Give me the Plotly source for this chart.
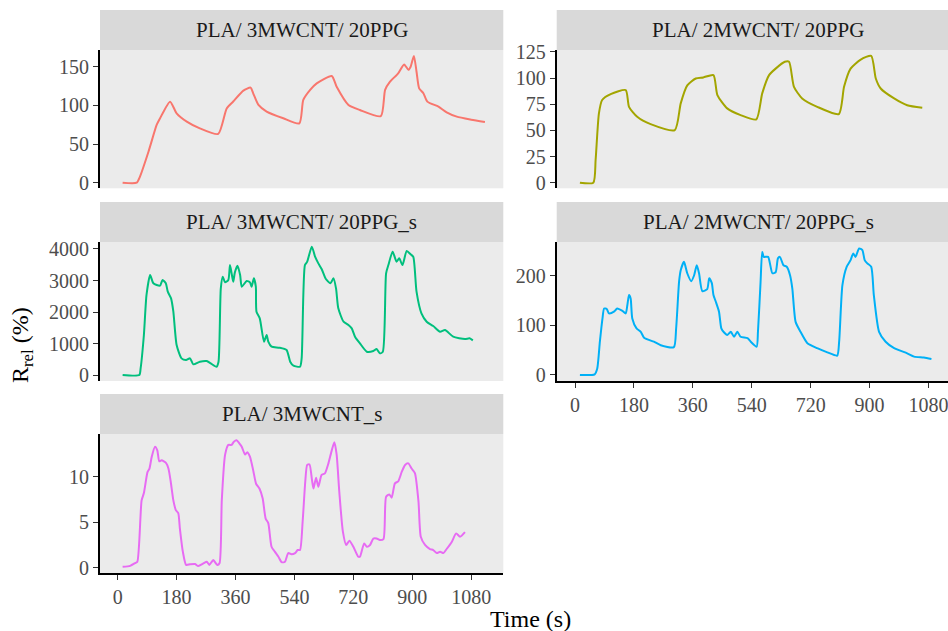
import plotly.graph_objects as go

# ---------------- data ----------------
titles = ["PLA/ 3MWCNT/ 20PPG", "PLA/ 2MWCNT/ 20PPG", "PLA/ 3MWCNT/ 20PPG_s",
          "PLA/ 2MWCNT/ 20PPG_s", "PLA/ 3MWCNT_s"]
colors = ["#F8766D", "#A3A500", "#00BF7D", "#00B0F6", "#E76BF3"]

t1 = [15, 58, 68, 94, 119, 129, 160, 180, 211, 251, 307, 333, 353, 384, 406, 414, 430, 455, 506,
      555, 567, 588, 608, 654, 669, 705, 740, 804, 817, 832, 857, 875, 888, 895, 905, 913, 921,
      934, 946, 980, 1005, 1036, 1080, 1122]
r1 = [0, 0, 7.8, 40, 74.6, 83, 104.8, 89.7, 79, 70.3, 63, 96, 105, 119, 123, 115.6, 100.5, 92, 83.3,
      76.8, 107, 120, 128.5, 138, 124, 100.5, 94, 86, 120, 130.6, 141.5, 153, 146, 150, 164, 143.5,
      122, 115.6, 104.8, 98.3, 91, 85.4, 81.5, 78.5]

t2 = [15, 56, 63, 73, 83, 109, 155, 165, 190, 231, 305, 323, 343, 369, 392, 423, 435, 465, 506,
      554, 572, 593, 613, 641, 654, 669, 694, 740, 806, 822, 842, 873, 905, 919, 934, 975, 1015, 1061]
r2 = [0, 0, 21.7, 66, 79, 84.6, 88.5, 72.5, 63, 56, 50.3, 75.8, 93, 99.6, 100.6, 102.8, 83.7, 71, 64.6,
      60.5, 85.3, 102.8, 109, 115.5, 115.5, 91.6, 80.5, 72.5, 65.6, 91.6, 109, 117.7, 121.2, 99.6, 90,
      80.5, 74, 71.6]

t3 = [15, 66, 70, 80, 88, 99, 109, 129, 137, 147, 153, 163, 170, 180, 195, 209, 221, 231, 251, 272,
      284, 302, 308, 315, 321, 328, 338, 343, 348, 353, 358, 366, 374, 379, 394, 404, 409, 416, 422,
      424, 434, 447, 455, 460, 470, 494, 516, 527, 537, 557, 562, 572, 579, 593, 603, 613, 623, 636,
      650, 659, 667, 674, 690, 705, 715, 725, 740, 761, 781, 791, 801, 810, 820, 827, 840, 852, 860,
      870, 883, 895, 903, 913, 928, 944, 964, 985, 1000, 1025, 1061, 1075, 1085]
r3 = [0, 0, 212, 1270, 2540, 3174, 2910, 2835, 3016, 2910, 2645, 2433, 2010, 952, 529, 476, 529, 339,
      423, 444, 370, 264, 423, 2750, 3121, 2941, 3016, 3490, 3227, 2962, 3258, 3470, 3174, 2804, 2983,
      2941, 2804, 3068, 2804, 2010, 1799, 1058, 1270, 1058, 899, 868, 794, 423, 296, 264, 529, 3490,
      3597, 4074, 3756, 3544, 3364, 3047, 2910, 3068, 2750, 2116, 1693, 1587, 1481, 1217, 1005, 740,
      762, 825, 688, 740, 3227, 3490, 3915, 3597, 3703, 3490, 3936, 3830, 3756, 2645, 1957, 1693, 1555,
      1375, 1428, 1217, 1143, 1164, 1100]

t4 = [15, 60, 68, 76, 84, 89, 97, 104, 119, 129, 145, 155, 160, 165, 170, 175, 188, 201, 211, 241,
      262, 302, 309, 318, 323, 333, 343, 355, 364, 372, 379, 389, 404, 410, 418, 423, 430, 440, 447,
      455, 465, 476, 486, 496, 506, 527, 537, 555, 559, 567, 572, 577, 590, 603, 613, 620, 626, 637,
      647, 657, 664, 674, 689, 710, 740, 771, 801, 807, 817, 830, 842, 850, 857, 868, 878, 885, 893,
      905, 913, 929, 949, 975, 1015, 1036, 1066, 1089]
r4 = [0, 1.3, 13, 67, 114, 134, 133, 124, 127.5, 134, 129, 124, 141, 161, 154, 114, 94, 87, 75, 67,
      60, 56, 94, 188, 211, 228, 205, 189, 201, 221, 205, 169, 173, 195, 185, 161, 148, 127.5, 94,
      86, 80.5, 87, 77, 87, 77, 74, 67, 57, 87, 188, 248, 238, 238, 205, 207, 235, 238, 221, 218, 201,
      174, 107, 87, 64, 54, 45.6, 39, 67, 181, 218, 231.5, 245, 238, 255, 251.6, 231.5, 225, 218, 161,
      87, 67, 54, 43.6, 37, 35, 32]

t5 = [15, 38, 53, 60, 73, 80, 91, 97, 104, 114, 121, 127, 134, 148, 155, 162, 170, 178, 185, 190,
      199, 209, 221, 236, 246, 262, 272, 280, 292, 304, 311, 318, 328, 338, 348, 355, 363, 371, 379,
      389, 396, 404, 414, 423, 433, 443, 452, 460, 470, 480, 491, 501, 511, 521, 531, 542, 550, 557,
      565, 573, 579, 586, 593, 598, 606, 613, 623, 633, 644, 654, 662, 669, 677, 688, 698, 708, 720,
      735, 740, 753, 761, 771, 781, 791, 801, 812, 820, 830, 837, 847, 857, 868, 878, 888, 898, 908,
      919, 926, 939, 954, 964, 975, 985, 995, 1005, 1021, 1034, 1046, 1061]
r5 = [0.1, 0.2, 0.5, 0.66, 7.4, 8.2, 10.5, 10.9, 12.2, 13.3, 12.9, 11.7, 11.8, 11.5, 10.9, 9.45, 7.4,
      6.3, 6.0, 4.3, 1.76, 0.3, 0.37, 0.4, 0.18, 0.48, 0.66, 0.3, 0.84, 0.3, 0.48, 7.4, 12.4, 13.5,
      13.5, 13.85, 14.0, 13.7, 13.3, 12.45, 12.7, 12.2, 10.7, 9.2, 8.7, 7.6, 5.4, 4.9, 2.3, 1.76, 1.2,
      0.6, 0.66, 1.6, 1.47, 1.6, 1.94, 1.94, 5.05, 9.45, 11.3, 11.35, 9.8, 8.7, 9.9, 8.9, 10.2, 10.37,
      11.5, 12.9, 13.8, 12.4, 8.35, 3.96, 2.5, 2.97, 2.3, 1.2, 1.2, 2.67, 2.3, 2.5, 3.2, 3.2, 3.04,
      3.15, 7.8, 8.06, 7.7, 9.27, 9.5, 10.55, 11.3, 11.47, 10.9, 10.4, 7.25, 3.4, 2.5, 2.05, 1.94, 1.6,
      1.76, 1.6, 2.05, 2.86, 3.77, 3.4, 3.9]

x_ticks = [0, 180, 360, 540, 720, 900, 1080]
y_ticks = [[0, 50, 100, 150], [0, 25, 50, 75, 100, 125], [0, 1000, 2000, 3000, 4000],
           [0, 100, 200], [0, 5, 10]]
y_ranges = [[-7.3, 171.6], [-5.4, 126.8], [-190, 4222], [-12.2, 268], [-0.62, 14.7]]

times = [t1, t2, t3, t4, t5]
values = [r1, r2, r3, r4, r5]

# ---------------- layout geometry ----------------
W, H = 948, 631
def px(v):
    return v / W
def py(v):
    return 1 - v / H

x_dom = {"L": [px(100), px(503.3)], "R": [px(556.7), 1.0]}
x_rng = {"L": [-54.1, 1178.1], "R": [-55.9, 1139.6]}
rows = [(10, 50, 188.3), (202, 242, 381), (394, 434, 573.3)]
panels = [("L", 0), ("R", 0), ("L", 1), ("R", 1), ("L", 2)]
show_x = [False, False, False, True, True]
strip_cx = {"L": 301.7, "R": 758.4}

fig = go.Figure()
shapes, annotations = [], []
tick_font = dict(family="Liberation Serif", size=20, color="#4D4D4D")

for i, (col, row) in enumerate(panels):
    n = "" if i == 0 else str(i + 1)
    fig.add_trace(go.Scatter(x=times[i], y=values[i], mode="lines",
                             line=dict(color=colors[i], width=2, shape="spline", smoothing=0.6),
                             xaxis="x" + n, yaxis="y" + n, showlegend=False,
                             hoverinfo="skip"))
    s_top, p_top, p_bot = rows[row]
    fig.layout["xaxis" + n] = dict(
        domain=x_dom[col], range=x_rng[col], anchor="y" + n, automargin=False,
        showgrid=False, zeroline=False, tickvals=x_ticks,
        showticklabels=show_x[i], ticks="outside" if show_x[i] else "",
        ticklen=5, tickwidth=1, tickcolor="#333333", ticklabeloverflow="allow",
        showline=show_x[i], linecolor="black", linewidth=2,
        tickfont=tick_font)
    fig.layout["yaxis" + n] = dict(
        domain=[py(p_bot), py(p_top)], range=y_ranges[i], anchor="x" + n, automargin=False,
        showgrid=False, zeroline=False, tickvals=y_ticks[i],
        ticks="outside", ticklen=5, tickwidth=1, tickcolor="#333333",
        showline=True, linecolor="black", linewidth=2, tickfont=tick_font)
    x0, x1 = x_dom[col]
    shapes.append(dict(type="rect", xref="paper", yref="paper", x0=x0, x1=x1,
                       y0=py(p_top), y1=py(s_top), fillcolor="#D9D9D9", line_width=0,
                       layer="below"))
    annotations.append(dict(text=titles[i], xref="paper", yref="paper",
                            x=px(strip_cx[col]), y=py((s_top + p_top) / 2),
                            showarrow=False, xanchor="center", yanchor="middle",
                            font=dict(family="Liberation Serif", size=21, color="#1A1A1A")))

annotations.append(dict(text="Time (s)", xref="paper", yref="paper", x=px(530), y=py(619),
                        showarrow=False, xanchor="center", yanchor="middle",
                        font=dict(family="Liberation Serif", size=24, color="black")))
annotations.append(dict(text="R<sub>rel</sub> (%)", xref="paper", yref="paper", x=px(22),
                        y=py(345), showarrow=False, textangle=-90, xanchor="center",
                        yanchor="middle",
                        font=dict(family="Liberation Serif", size=24, color="black")))

fig.update_layout(width=W, height=H, margin=dict(l=0, r=0, t=0, b=0, autoexpand=False),
                  paper_bgcolor="white", plot_bgcolor="#EBEBEB",
                  shapes=shapes, annotations=annotations, showlegend=False)

fig.write_html("out.html", config={"displayModeBar": False},
               post_script="document.body.style.margin='0px';document.body.style.overflow='hidden';")
